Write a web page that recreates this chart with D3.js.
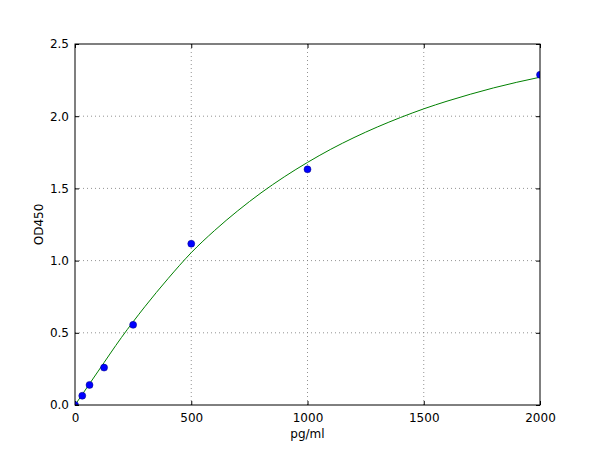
<!DOCTYPE html>
<html>
<head>
<meta charset="utf-8">
<script src="https://cdn.jsdelivr.net/npm/d3@7"></script>
<style>
  body { margin: 0; background: #fff; }
  text { font-family: "DejaVu Sans", sans-serif; font-size: 12px; fill: #000; }
</style>
</head>
<body>
<div id="chart"></div>
<script>
// standards
var concentrations = [0, 31.25, 62.5, 125, 250, 500, 1000, 2000];
var odValues = [0.0, 0.064, 0.139, 0.259, 0.555, 1.117, 1.632, 2.287];

// fitted curve, every 100 pg/ml
var curveX = [0, 100, 200, 300, 400, 500, 600, 700, 800, 900, 1000,
              1100, 1200, 1300, 1400, 1500, 1600, 1700, 1800, 1900, 2000];
var curveY = [0, 0.235, 0.468, 0.68, 0.875, 1.055, 1.208, 1.345, 1.469, 1.58, 1.68,
              1.771, 1.852, 1.925, 1.991, 2.051, 2.104, 2.152, 2.196, 2.235, 2.27];

var xTicks = [0, 500, 1000, 1500, 2000];
var yTicks = [0, 0.5, 1.0, 1.5, 2.0, 2.5];

var margin = {top: 44, right: 60, bottom: 45, left: 75},
    width = 600 - margin.left - margin.right,
    height = 450 - margin.top - margin.bottom;

var svg = d3.select("#chart").append("svg")
    .attr("width", 600)
    .attr("height", 450);
var g = svg.append("g").attr("transform", "translate(" + margin.left + "," + margin.top + ")");

var xScale = d3.scaleLinear().domain([0, 2000]).range([0, width]),
    yScale = d3.scaleLinear().domain([0, 2.5]).range([height, 0]);

g.append("clipPath").attr("id", "plotclip")
  .append("rect").attr("width", width).attr("height", height);

// grid
g.append("g").selectAll("line")
  .data(xTicks.slice(1, -1)).enter()
  .append("line")
  .attr("x1", function(d){ return xScale(d); })
  .attr("x2", function(d){ return xScale(d); })
  .attr("y1", 0).attr("y2", height)
  .attr("stroke", "#777").attr("stroke-width", 0.8)
  .attr("stroke-dasharray", "1,3");

g.append("g").selectAll("line")
  .data(yTicks.slice(1, -1)).enter()
  .append("line")
  .attr("y1", function(d){ return yScale(d); })
  .attr("y2", function(d){ return yScale(d); })
  .attr("x1", 0).attr("x2", width)
  .attr("stroke", "#777").attr("stroke-width", 0.8)
  .attr("stroke-dasharray", "1,3");

// axes, ticks pointing inward
var xAxis = d3.axisBottom(xScale).tickValues(xTicks).tickFormat(d3.format("d")).tickSizeInner(-4).tickSizeOuter(0).tickPadding(8);
var yAxis = d3.axisLeft(yScale).tickValues(yTicks).tickFormat(d3.format(".1f")).tickSizeInner(-4).tickSizeOuter(0).tickPadding(6);

var gx = g.append("g").attr("transform", "translate(0," + height + ")").call(xAxis);
var gy = g.append("g").call(yAxis);
g.append("g").call(d3.axisTop(xScale).tickValues(xTicks).tickSizeInner(-4).tickSizeOuter(0).tickFormat(""));
g.append("g").attr("transform", "translate(" + width + ",0)")
  .call(d3.axisRight(yScale).tickValues(yTicks).tickSizeInner(-4).tickSizeOuter(0).tickFormat(""));

g.selectAll(".domain").remove();
g.selectAll(".tick line").attr("stroke", "#000");
gx.selectAll("text").style("font-size", "12px");
gy.selectAll("text").style("font-size", "12px");

// fitted curve
var line = d3.line()
  .x(function(d, i){ return xScale(curveX[i]); })
  .y(function(d){ return yScale(d); })
  .curve(d3.curveMonotoneX);

g.append("path")
  .datum(curveY)
  .attr("d", line)
  .attr("fill", "none")
  .attr("stroke", "#008000")
  .attr("stroke-width", 1)
  .attr("clip-path", "url(#plotclip)");

// points
g.append("g").attr("clip-path", "url(#plotclip)")
  .selectAll("circle")
  .data(odValues).enter()
  .append("circle")
  .attr("cx", function(d, i){ return xScale(concentrations[i]); })
  .attr("cy", function(d){ return yScale(d); })
  .attr("r", 3.5)
  .attr("fill", "#0000ff")
  .attr("stroke", "#000080")
  .attr("stroke-width", 0.5);

// frame
g.append("rect")
  .attr("width", width).attr("height", height)
  .attr("fill", "none").attr("stroke", "#000").attr("stroke-width", 1);

// labels
svg.append("text")
  .attr("x", margin.left + width / 2)
  .attr("y", 438)
  .attr("text-anchor", "middle")
  .text("pg/ml");

svg.append("text")
  .attr("transform", "translate(43," + (margin.top + height / 2) + ") rotate(-90)")
  .attr("text-anchor", "middle")
  .text("OD450");
</script>
</body>
</html>
